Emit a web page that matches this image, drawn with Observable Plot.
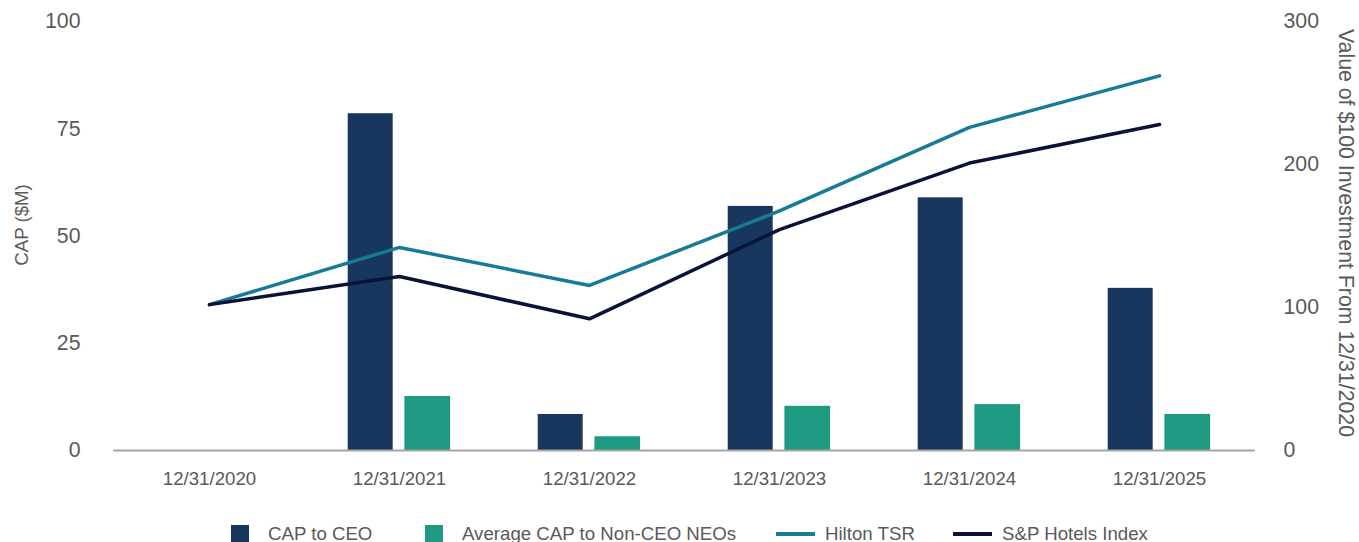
<!DOCTYPE html>
<html>
<head>
<meta charset="utf-8">
<script src="https://cdn.jsdelivr.net/npm/d3@7"></script>
<script src="https://cdn.jsdelivr.net/npm/@observablehq/plot@0.6"></script>
<style>
  html, body { margin: 0; padding: 0; background: #fff; }
  body { width: 1359px; height: 542px; overflow: hidden; font-family: "Liberation Sans", Arial, sans-serif; }
  #chart svg { display: block; }
  #legend { position: relative; height: 37px; color: #595959; font-size: 18.67px; }
  #legend .sw { position: absolute; }
  #legend .lbl { position: absolute; top: 29px; transform: translateY(-50%); white-space: nowrap; line-height: 1; }
</style>
</head>
<body>
<div id="chart"></div>
<div id="legend"></div>
<script>
// ---- data ----
const dates = ["12/31/2020", "12/31/2021", "12/31/2022", "12/31/2023", "12/31/2024", "12/31/2025"];
const capDates = ["12/31/2021", "12/31/2022", "12/31/2023", "12/31/2024", "12/31/2025"];
const capToCEO = [78.5, 8.4, 56.9, 58.9, 37.8];
const capNonCEO = [12.6, 3.2, 10.3, 10.7, 8.4];
const hiltonTSR = [102, 142, 115.4, 167.5, 226, 262];
const spHotels = [102, 121.7, 92.1, 154.5, 201, 228];
const leftTicks = [0, 25, 50, 75, 100];
const rightTicks = [0, 100, 200, 300];

const colors = {ceo: "#17375e", non: "#1e9982", hilton: "#177b96", sp: "#0b1238"};
const textColor = "#595959";
const ratio = 3; // right axis (0-300) onto left axis (0-100)

const ceoRows = capDates.map((d, i) => ({date: d, value: capToCEO[i]}));
const nonRows = capDates.map((d, i) => ({date: d, value: capNonCEO[i]}));
const hiltonRows = dates.map((d, i) => ({date: d, value: hiltonTSR[i]}));
const spRows = dates.map((d, i) => ({date: d, value: spHotels[i]}));

const chart = Plot.plot({
  width: 1359,
  height: 505,
  marginTop: 21,
  marginBottom: 55,
  marginLeft: 113,
  marginRight: 104,
  style: {fontFamily: '"Liberation Sans", Arial, sans-serif', color: textColor, background: "white"},
  x: {type: "band", domain: dates, padding: 0},
  y: {domain: [0, 100]},
  marks: [
    Plot.barY(ceoRows, {x: "date", y: "value", fill: colors.ceo, insetLeft: 43.7, insetRight: 101.3}),
    Plot.barY(nonRows, {x: "date", y: "value", fill: colors.non, insetLeft: 100.4, insetRight: 43.9}),
    Plot.ruleY([0], {stroke: "#a6a6a6", strokeWidth: 2}),
    Plot.lineY(hiltonRows, {x: "date", y: d => d.value / ratio, stroke: colors.hilton, strokeWidth: 3.5}),
    Plot.lineY(spRows, {x: "date", y: d => d.value / ratio, stroke: colors.sp, strokeWidth: 3.5}),
    Plot.axisX({tickSize: 0, tickPadding: 21, fontSize: 18.67, label: null, fill: textColor}),
    Plot.axisY({anchor: "left", ticks: leftTicks, tickSize: 0, tickPadding: 33, fontSize: 21.3, label: null, fill: textColor}),
    Plot.axisY({anchor: "right", ticks: rightTicks.map(v => v / ratio), tickFormat: v => String(Math.round(v * ratio)),
      tickSize: 0, tickPadding: 28, fontSize: 21.3, label: null, fill: textColor}),
    Plot.text(["CAP ($M)"], {frameAnchor: "left", textAnchor: "middle", dx: -91, dy: -11, rotate: -90, fontSize: 18.67, fill: textColor}),
    Plot.text(["Value of $100 Investment From 12/31/2020"], {frameAnchor: "right", textAnchor: "middle", dx: 90, dy: -3, rotate: 90, fontSize: 21.3, fill: textColor})
  ]
});
document.getElementById("chart").appendChild(chart);

// ---- legend ----
const legendItems = [
  {label: "CAP to CEO", color: colors.ceo, kind: "box", x: 231, tx: 268},
  {label: "Average CAP to Non-CEO NEOs", color: colors.non, kind: "box", x: 425, tx: 462},
  {label: "Hilton TSR", color: colors.hilton, kind: "line", x: 776, tx: 825},
  {label: "S&P Hotels Index", color: colors.sp, kind: "line", x: 953, tx: 1002}
];
const legend = document.getElementById("legend");
for (const it of legendItems) {
  const sw = document.createElement("div");
  sw.className = "sw";
  sw.style.background = it.color;
  sw.style.left = it.x + "px";
  if (it.kind === "box") { sw.style.width = "18px"; sw.style.height = "18px"; sw.style.top = "20px"; }
  else { sw.style.width = "39px"; sw.style.height = "4px"; sw.style.top = "27px"; }
  legend.appendChild(sw);
  const t = document.createElement("span");
  t.className = "lbl";
  t.textContent = it.label;
  t.style.left = it.tx + "px";
  legend.appendChild(t);
}
</script>
</body>
</html>
